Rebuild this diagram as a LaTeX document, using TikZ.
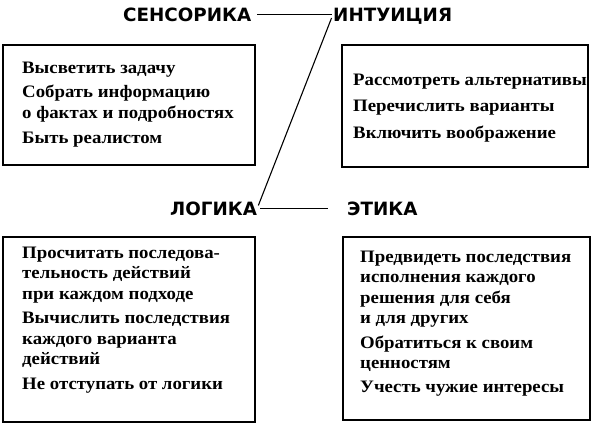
\documentclass[tikz,border=0pt]{standalone}
\usepackage{fontspec}
\setmainfont{Liberation Serif}[FakeStretch=1.075]
\newfontfamily\headfont{DejaVu Sans}
\begin{document}
\begin{tikzpicture}[x=1pt,y=-1pt,
  boxstyle/.style={draw,line width=1.3pt,inner sep=0pt},
  itemtext/.style={anchor=base west,inner sep=0pt,font=\fontsize{17.5}{20.5}\selectfont\bfseries},
  head/.style={anchor=base west,inner sep=0pt,text height=13.5pt,text depth=0pt,font=\headfont\fontsize{18.3}{22}\selectfont\bfseries},
  conn/.style={line width=1.1pt}]
\useasboundingbox (0,0) rectangle (599,424);
\renewcommand{\arraystretch}{1}
% headings
\node[head] (sens) at (123,21) {СЕНСОРИКА};
\node[head] (intu) at (333,21) {ИНТУИЦИЯ};
\node[head] (logi) at (170,215) {ЛОГИКА};
\node[head] (etik) at (347,215) {ЭТИКА};
\draw[conn,shorten <=6pt,shorten >=1pt] (sens.east) -- (intu.west);
\draw[conn,shorten <=4pt,shorten >=3pt] (intu.west) -- (logi.east);
\draw[conn,shorten <=3pt,shorten >=19pt] (logi.east) -- (etik.west);
% boxes
\draw[boxstyle] (3,45) rectangle (255,165);
\draw[boxstyle] (342,45) rectangle (588,167);
\draw[boxstyle] (3,237) rectangle (255,422);
\draw[boxstyle] (343,237) rectangle (590,420);
% texts
\node[itemtext] (t1) at (22,73) {\begin{tabular}[t]{@{}l@{}}Высветить задачу\\[4pt]
Собрать информацию\\
о фактах и подробностях\\[4.5pt]
Быть реалистом\end{tabular}};
\node[itemtext] (t2) at (353,85) {\begin{tabular}[t]{@{}l@{}}Рассмотреть альтернативы\\[6pt]
Перечислить варианты\\[6pt]
Включить воображение\end{tabular}};
\node[itemtext] (t3) at (22,258) {\begin{tabular}[t]{@{}l@{}}Просчитать последова-\\
тельность действий\\
при каждом подходе\\[4pt]
Вычислить последствия\\
каждого варианта\\
действий\\[4pt]
Не отступать от логики\end{tabular}};
\node[itemtext] (t4) at (360,262) {\begin{tabular}[t]{@{}l@{}}Предвидеть последствия\\
исполнения каждого\\
решения для себя\\
и для других\\[4pt]
Обратиться к своим\\
ценностям\\[3pt]
Учесть чужие интересы\end{tabular}};
\end{tikzpicture}
\end{document}
